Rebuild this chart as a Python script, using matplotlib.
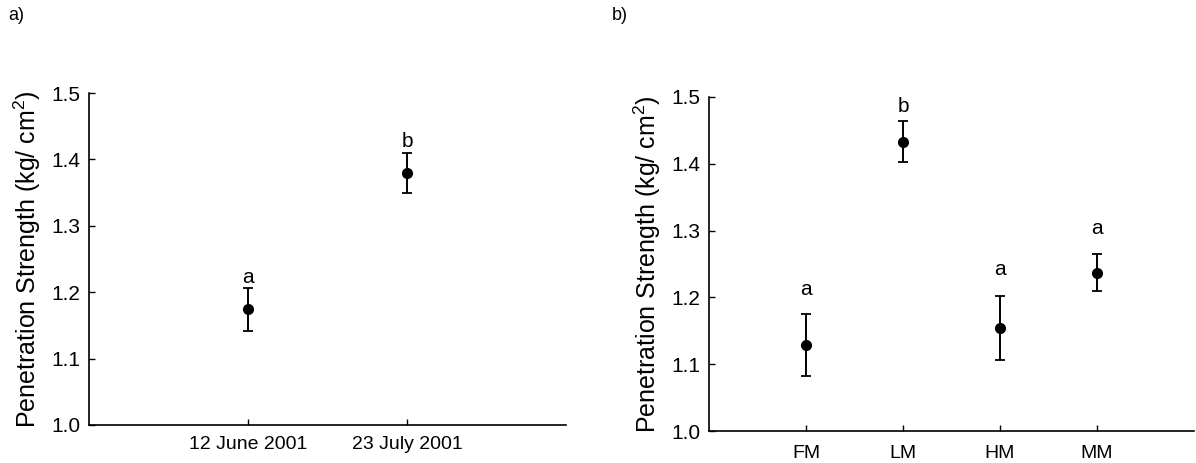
import matplotlib
matplotlib.use("Agg")
import matplotlib.pyplot as plt

# ---- data ----
dates = ["12 June 2001", "23 July 2001"]
date_means = [1.174, 1.380]
date_errs = [0.032, 0.030]
date_letters = ["a", "b"]

sites = ["FM", "LM", "HM", "MM"]
site_means = [1.129, 1.433, 1.154, 1.237]
site_errs = [0.046, 0.031, 0.048, 0.028]
site_letters = ["a", "b", "a", "a"]

yticks = [1.0, 1.1, 1.2, 1.3, 1.4, 1.5]
ylabel = "Penetration Strength (kg/ cm$^{2}$)"

# ---- style ----
plt.rcParams["font.family"] = ["Liberation Sans", "DejaVu Sans"]
plt.rcParams["mathtext.fontset"] = "custom"
plt.rcParams["mathtext.rm"] = "Liberation Sans"
plt.rcParams["mathtext.it"] = "Liberation Sans"

fig = plt.figure(figsize=(11.96, 4.63), dpi=100)
ax1 = fig.add_axes([0.0744, 0.0821, 0.3988, 0.717])
ax2 = fig.add_axes([0.5928, 0.0691, 0.4055, 0.7214])


def style(ax, labels, means, errs, letters, offsets_px, xpad):
    xs = list(range(1, len(labels) + 1))
    ax.errorbar(xs, means, yerr=errs, fmt="o", color="black", ms=7,
                capsize=3.5, elinewidth=1.4, capthick=1.3)
    for x, m, e, l, off in zip(xs, means, errs, letters, offsets_px):
        ax.annotate(l, (x, m + e), xytext=(0, off * 0.72),
                    textcoords="offset points", ha="center", va="center",
                    fontsize=15)
    ax.set_xlim(0, len(labels) + 1)
    ax.set_ylim(1.0, 1.5)
    ax.set_xticks(xs)
    ax.set_xticklabels(labels, fontsize=14)
    ax.set_yticks(yticks)
    ax.set_yticklabels([f"{v:.1f}" for v in yticks], fontsize=15)
    ax.tick_params(axis="y", direction="in", length=4, width=1.0, pad=6)
    ax.tick_params(axis="x", direction="in", length=4, width=1.0, pad=xpad)
    for s in ("top", "right"):
        ax.spines[s].set_visible(False)
    for s in ("left", "bottom"):
        ax.spines[s].set_linewidth(1.2)
    ax.set_ylabel(ylabel, fontsize=18, labelpad=6)


style(ax1, dates, date_means, date_errs, date_letters, [11, 11], 8)
style(ax2, sites, site_means, site_errs, site_letters, [25, 15, 27, 25], 10)

fig.text(8 / 1196, 1 - 16 / 463, "a)", fontsize=13, va="center", ha="left")
fig.text(612 / 1196, 1 - 16 / 463, "b)", fontsize=13, va="center", ha="left")

fig.savefig("out.png", dpi=100)
